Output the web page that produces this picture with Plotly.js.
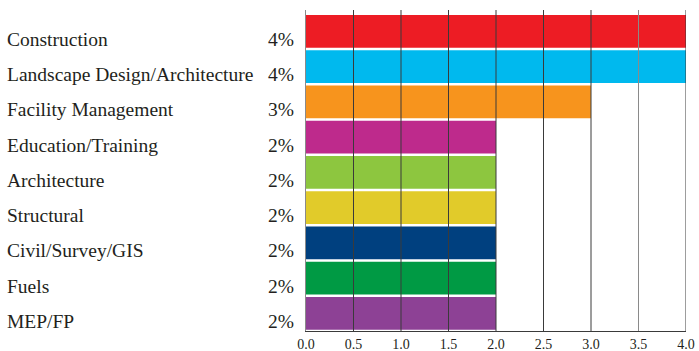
<!DOCTYPE html>
<html>
<head>
<meta charset="utf-8">
<script src="https://cdn.plot.ly/plotly-3.0.1.min.js"></script>
<style>html,body{margin:0;padding:0;background:#fff;}#chart{width:699px;height:351px;}</style>
</head>
<body>
<div id="chart"></div>
<script>
const categories = ["Construction","Landscape Design/Architecture","Facility Management","Education/Training","Architecture","Structural","Civil/Survey/GIS","Fuels","MEP/FP"];
const values = [4,4,3,2,2,2,2,2,2];
const pctLabels = ["4%","4%","3%","2%","2%","2%","2%","2%","2%"];
const colors = ["#ED1C24","#00B9EE","#F7941D","#BE2A8C","#8DC63F","#E1CB2A","#00407F","#009A44","#8D4195"];
const tickVals = [0,0.5,1,1.5,2,2.5,3,3.5,4];
const tickText = ["0.0","0.5","1.0","1.5","2.0","2.5","3.0","3.5","4.0"];

const serif = "Liberation Serif, Times New Roman, serif";
const textColor = "#231F20";

const trace = {
  type: "bar",
  orientation: "h",
  y: categories,
  x: values,
  marker: {color: colors, line: {width: 0}},
  hoverinfo: "none"
};

const annotations = [];
categories.forEach((c, i) => {
  annotations.push({xref: "paper", yref: "y", x: -0.792, y: c, text: c, showarrow: false, yshift: -8,
    xanchor: "left", yanchor: "middle", font: {family: serif, size: 19.5, color: textColor}});
  annotations.push({xref: "paper", yref: "y", x: -0.026, y: c, text: pctLabels[i], showarrow: false, yshift: -8,
    xanchor: "right", yanchor: "middle", font: {family: serif, size: 19.5, color: textColor}});
});

const shapes = tickVals.filter(v => v > 0).map(v => ({
  type: "line", xref: "x", yref: "paper", x0: v, x1: v, y0: 0, y1: 1,
  layer: "above", line: {color: v === 3.5 ? "#8a8a8a" : "#3a3a3a", width: 1}
}));

const layout = {
  width: 699, height: 351,
  margin: {l: 306, r: 13, t: 10, b: 20},
  paper_bgcolor: "#fff", plot_bgcolor: "#fff",
  showlegend: false,
  bargap: 0.07,
  xaxis: {range: [0, 4], tickvals: tickVals, ticktext: tickText, showgrid: false, zeroline: false,
    showline: true, linecolor: "#3a3a3a", linewidth: 1, ticks: "", ticklabelstandoff: 0,
    tickfont: {family: serif, size: 14, color: textColor}, fixedrange: true},
  yaxis: {type: "category", range: [8.5, -0.606], showticklabels: false, showgrid: false, zeroline: false,
    showline: true, linecolor: "#8a8a8a", linewidth: 1, ticks: "", fixedrange: true},
  annotations: annotations,
  shapes: shapes
};

Plotly.newPlot("chart", [trace], layout, {displayModeBar: false, staticPlot: true});
</script>
</body>
</html>
